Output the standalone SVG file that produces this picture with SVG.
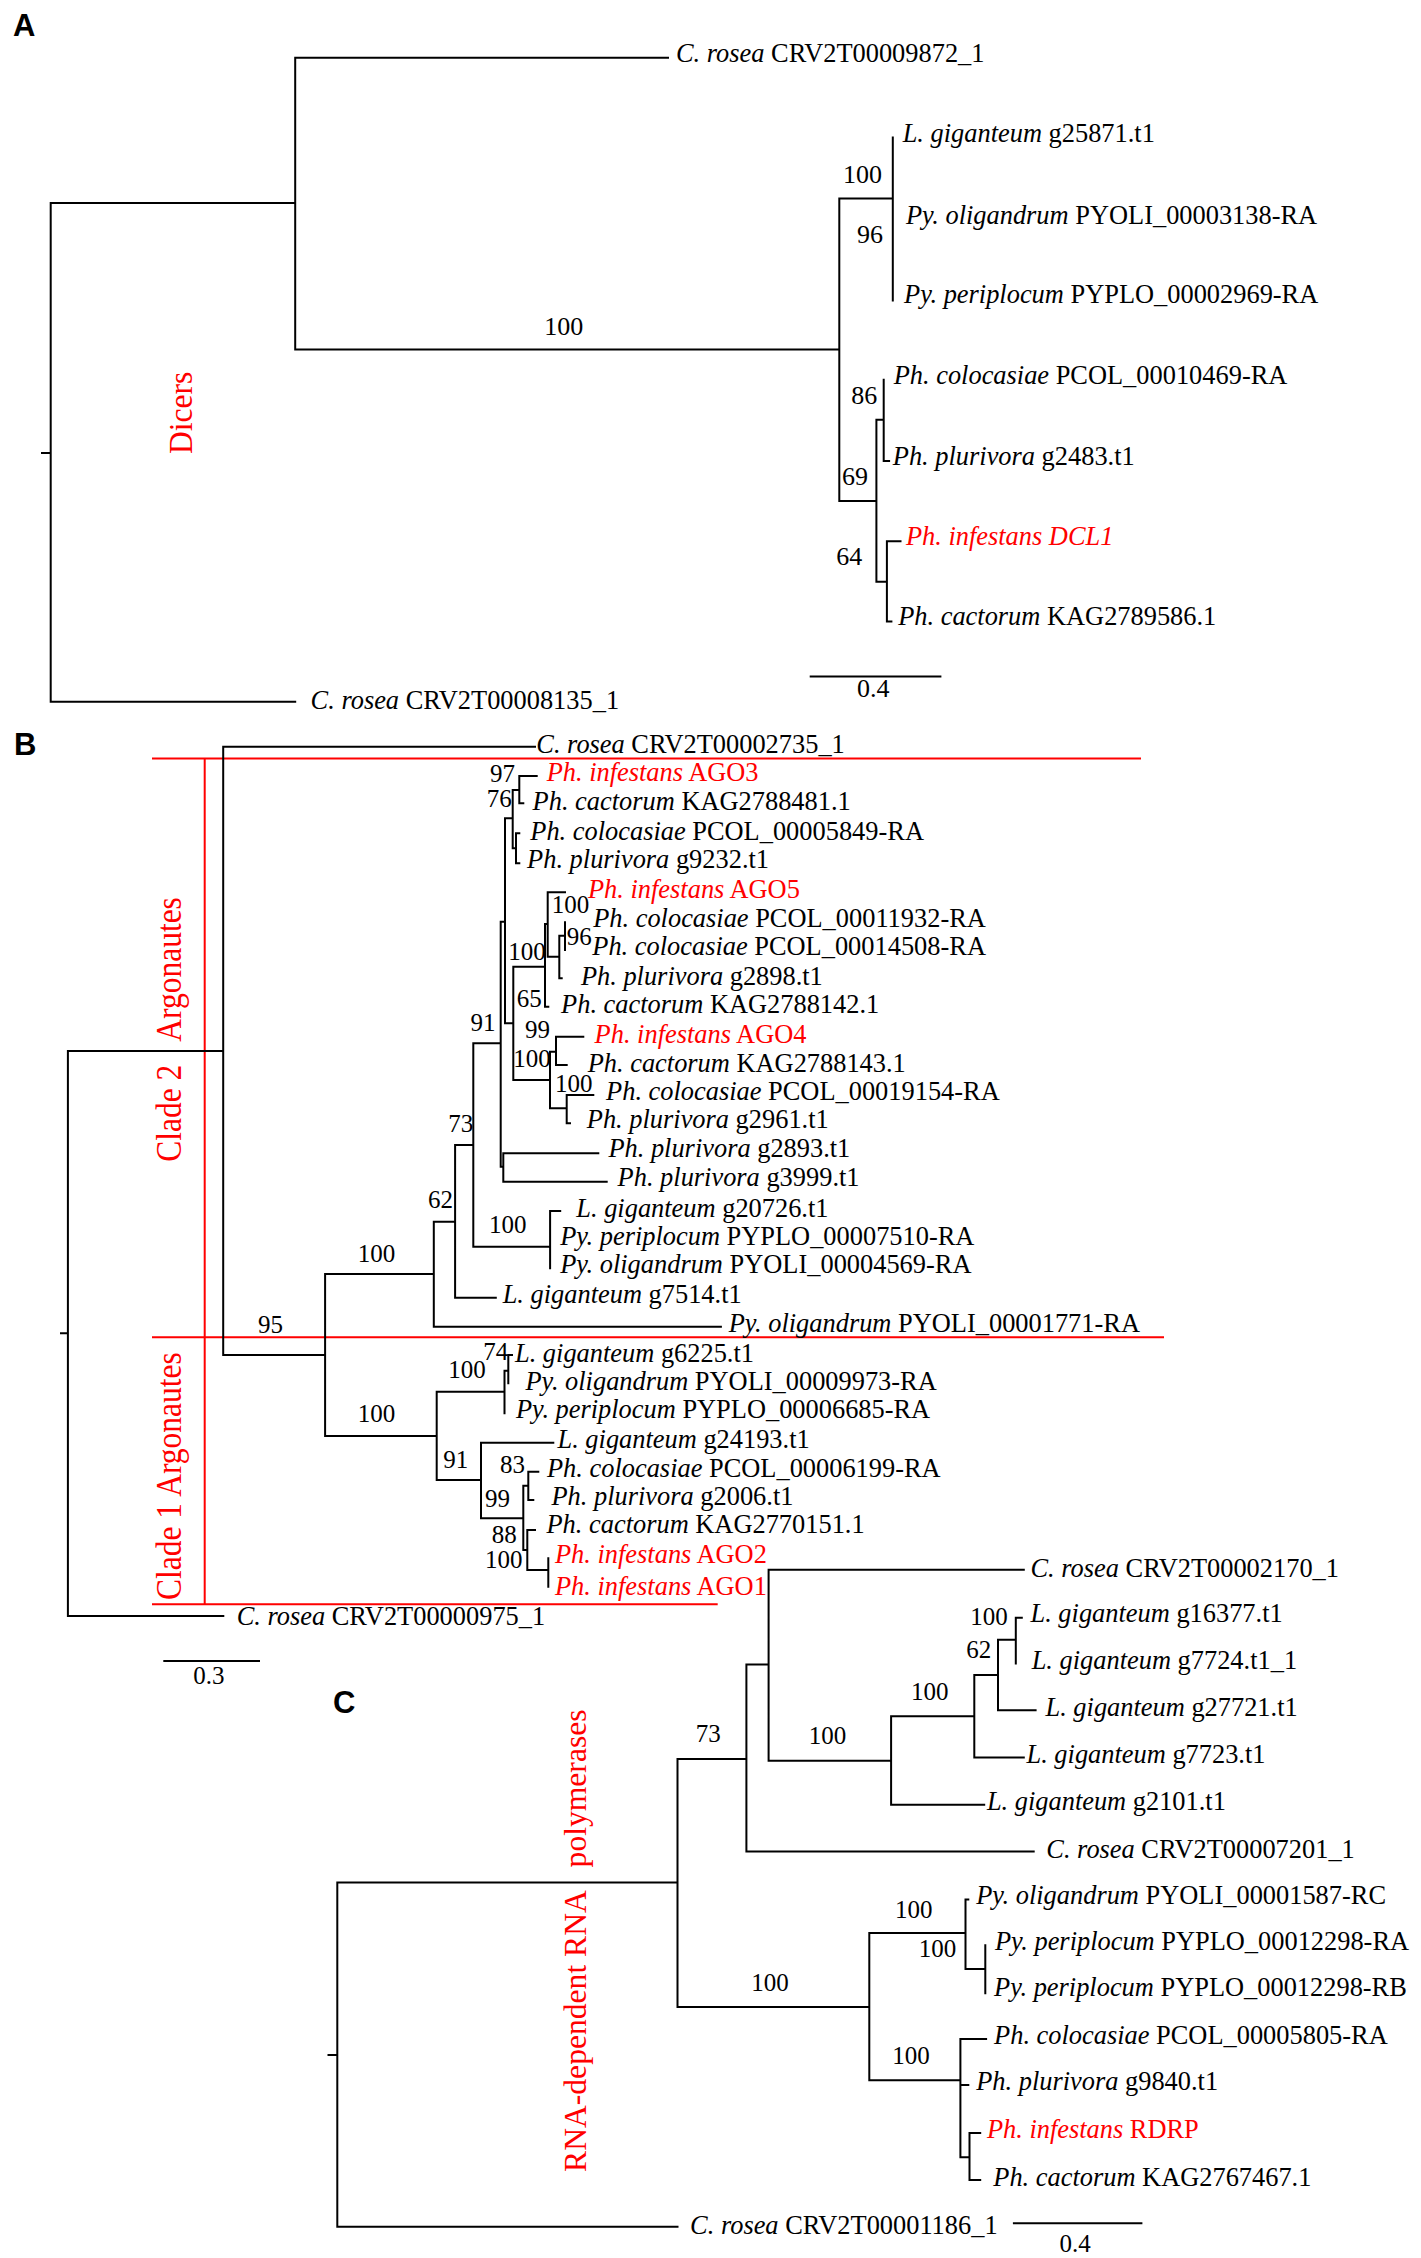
<svg xmlns="http://www.w3.org/2000/svg" width="1421" height="2258" viewBox="0 0 1421 2258">
<style>
.t{font-family:"Liberation Serif","Times New Roman",serif;font-size:26.4px;fill:#000}
.n{font-family:"Liberation Serif","Times New Roman",serif;font-size:25px;fill:#000}
.na{font-family:"Liberation Serif","Times New Roman",serif;font-size:26px;fill:#000}
.i{font-style:italic}
.r{fill:#ff0000}
.p{font-family:"Liberation Sans",Arial,sans-serif;font-weight:bold;font-size:31px;fill:#000}
.rt{font-family:"Liberation Serif","Times New Roman",serif;font-size:31.6px;fill:#ff0000}
.br{fill:none;stroke:#000;stroke-width:2;stroke-linecap:square}
.rl{fill:none;stroke:#ff0000;stroke-width:2}
</style>
<rect width="1421" height="2258" fill="#fff"/>

<!-- ================= PANEL A ================= -->
<g id="panelA">
<text class="p" x="13" y="35.8">A</text>
<g id="a-label-dicers"><text class="rt" transform="translate(192,412.8) rotate(-90) scale(1,1.08)" text-anchor="middle">Dicers</text></g>
<g id="a-connectors">
<path class="br" d="M42,453H50.7M50.7,203V701.8M50.7,203H295.2M50.7,701.8H295.2M295.2,57.8V349.5M295.2,57.8H668M295.2,349.5H839.3M839.3,198.6V500.9M839.3,198.6H892.8M892.8,137.6V300.5M839.3,500.9H876.4M876.4,419.7V581.7M876.4,419.7H883.7M883.7,379.8V461M883.7,461H889.1M876.4,581.7H886.9M886.9,541.3V621.6M886.9,541.3H900.5M886.9,621.6H891.4"/>
<path class="br" d="M810.7,676.6H940.4"/>
</g>
<g id="a-leaf-crosea9872"><text class="t" x="676" y="62"><tspan class="i">C. rosea</tspan> CRV2T00009872_1</text></g>
<g id="a-leaf-lgig25871"><text class="t" x="902.7" y="142.2"><tspan class="i">L. giganteum</tspan> g25871.t1</text></g>
<g id="a-leaf-pyoli3138"><text class="t" x="905.9" y="223.9"><tspan class="i">Py. oligandrum</tspan> PYOLI_00003138-RA</text></g>
<g id="a-leaf-pyplo2969"><text class="t" x="904.1" y="302.8"><tspan class="i">Py. periplocum</tspan> PYPLO_00002969-RA</text></g>
<g id="a-leaf-pcol10469"><text class="t" x="893.7" y="384.4"><tspan class="i">Ph. colocasiae</tspan> PCOL_00010469-RA</text></g>
<g id="a-leaf-pplu2483"><text class="t" x="892.8" y="464.7"><tspan class="i">Ph. plurivora</tspan> g2483.t1</text></g>
<g id="a-leaf-dcl1"><text class="t r i" x="905.9" y="545">Ph. infestans DCL1</text></g>
<g id="a-leaf-pcac9586"><text class="t" x="898.2" y="624.8"><tspan class="i">Ph. cactorum</tspan> KAG2789586.1</text></g>
<g id="a-leaf-crosea8135"><text class="t" x="310.6" y="708.7"><tspan class="i">C. rosea</tspan> CRV2T00008135_1</text></g>
<g id="a-support" text-anchor="middle">
<text class="na" x="862.4" y="182.6">100</text>
<text class="na" x="870" y="243.1">96</text>
<text class="na" x="563.7" y="334.9">100</text>
<text class="na" x="864.2" y="403.7">86</text>
<text class="na" x="855" y="484.9">69</text>
<text class="na" x="849.2" y="565.1">64</text>
<text class="na" x="873.3" y="697.2">0.4</text>
</g>
</g>

<!-- ================= PANEL B ================= -->
<g id="panelB">
<text class="p" x="14" y="755">B</text>
<g id="b-clade-lines">
<path class="rl" d="M152,758.5H1141M204.7,758.5V1604.3M152,1337.3H1164M152,1604.3H717.7"/>
</g>
<g id="b-label-clade2"><text class="rt" style="font-size:31.5px" transform="translate(181,1161.7) rotate(-90) scale(1,1.17)">Clade 2 <tspan x="120">Argonautes</tspan></text></g>
<g id="b-label-clade1"><text class="rt" style="font-size:31.5px" transform="translate(181,1600) rotate(-90) scale(1,1.17)">Clade 1 Argonautes</text></g>
<g id="b-connectors">
<path class="br" d="M61,1333.3H67.9M67.9,1051V1616M67.9,1051H223.2M67.9,1616H223.3M223.2,746.7V1355M223.2,746.7H535M223.2,1355H325.1
M325.1,1274V1436M325.1,1274H433.8M433.8,1221.7V1326.7M433.8,1326.7H720.9M433.8,1221.7H455.1M455.1,1145V1297.7M455.1,1297.7H495.8M455.1,1145H473.3
M473.3,1043.3V1246.7M473.3,1246.7H550.1M550.1,1211V1268.3M550.1,1211H560.2M473.3,1043.3H500.7
M500.7,921.7V1166.7M500.7,1166.7H503.3M503.3,1153.3V1181.7M503.3,1153.3H598.3M503.3,1181.7H606.7
M500.7,921.7H505M505,818.3V1023.3M505,818.3H512.7M512.7,790V848.3M512.7,790H519.3M519.3,776V803.3M519.3,776H536.7M519.3,803.3H523.3
M512.7,848.3H516M516,833.3V863.3M516,833.3H519.3M516,863.3H519.3
M505,1023.3H513.3M513.3,966.7V1080M513.3,966.7H545M545,924V1006.7M545,1006.7H548.3M545,924H547.7
M547.7,892.3V956.7M547.7,892.3H565M547.7,956.7H559.3M559.3,935.7V978.3M559.3,978.3H561.7M559.3,935.7H565M565,922.3V950
M513.3,1080H550M550,1051.7V1108.3M550,1051.7H556M556,1036.7V1065M556,1036.7H583.3M556,1065H566.7
M550,1108.3H566.7M566.7,1095V1123.3M566.7,1095H593.3M566.7,1123.3H570
M325.1,1436H436.7M436.7,1391.7V1480M436.7,1391.7H504.5M504.5,1370.7V1413.3M504.5,1370.7H508.3M508.3,1355V1383.3M508.3,1355H512
M436.7,1480H481M481,1442.7V1518.3M481,1442.7H553.3M481,1518.3H523.3M523.3,1485.8V1550M523.3,1485.8H528.3M528.3,1471.7V1500M528.3,1471.7H538.3M528.3,1500H533.3
M523.3,1550H527.3M527.3,1530V1570M527.3,1530H535M527.3,1570H548.3M548.3,1558.3V1586.7"/>
<path class="br" d="M164.3,1661H259"/>
</g>
<g id="b-leaf-crosea2735"><text class="t" x="536.3" y="753.3"><tspan class="i">C. rosea</tspan> CRV2T00002735_1</text></g>
<g id="b-leaf-ago3"><text class="t r" x="546.7" y="781"><tspan class="i">Ph. infestans</tspan> AGO3</text></g>
<g id="b-leaf-pcac8481"><text class="t" x="532.6" y="810"><tspan class="i">Ph. cactorum</tspan> KAG2788481.1</text></g>
<g id="b-leaf-pcol5849"><text class="t" x="530.3" y="840"><tspan class="i">Ph. colocasiae</tspan> PCOL_00005849-RA</text></g>
<g id="b-leaf-pplu9232"><text class="t" x="527.1" y="868.3"><tspan class="i">Ph. plurivora</tspan> g9232.t1</text></g>
<g id="b-leaf-ago5"><text class="t r" x="588" y="898"><tspan class="i">Ph. infestans</tspan> AGO5</text></g>
<g id="b-leaf-pcol11932"><text class="t" x="593.2" y="926.7"><tspan class="i">Ph. colocasiae</tspan> PCOL_00011932-RA</text></g>
<g id="b-leaf-pcol14508"><text class="t" x="592.3" y="955"><tspan class="i">Ph. colocasiae</tspan> PCOL_00014508-RA</text></g>
<g id="b-leaf-pplu2898"><text class="t" x="580.9" y="985"><tspan class="i">Ph. plurivora</tspan> g2898.t1</text></g>
<g id="b-leaf-pcac8142"><text class="t" x="561.1" y="1013.3"><tspan class="i">Ph. cactorum</tspan> KAG2788142.1</text></g>
<g id="b-leaf-ago4"><text class="t r" x="594.6" y="1042.7"><tspan class="i">Ph. infestans</tspan> AGO4</text></g>
<g id="b-leaf-pcac8143"><text class="t" x="587.7" y="1071.7"><tspan class="i">Ph. cactorum</tspan> KAG2788143.1</text></g>
<g id="b-leaf-pcol19154"><text class="t" x="606.1" y="1100"><tspan class="i">Ph. colocasiae</tspan> PCOL_00019154-RA</text></g>
<g id="b-leaf-pplu2961"><text class="t" x="586.8" y="1128.3"><tspan class="i">Ph. plurivora</tspan> g2961.t1</text></g>
<g id="b-leaf-pplu2893"><text class="t" x="608.4" y="1157.3"><tspan class="i">Ph. plurivora</tspan> g2893.t1</text></g>
<g id="b-leaf-pplu3999"><text class="t" x="617.6" y="1186"><tspan class="i">Ph. plurivora</tspan> g3999.t1</text></g>
<g id="b-leaf-lgig20726"><text class="t" x="576.3" y="1216.7"><tspan class="i">L. giganteum</tspan> g20726.t1</text></g>
<g id="b-leaf-pyplo7510"><text class="t" x="560.2" y="1245"><tspan class="i">Py. periplocum</tspan> PYPLO_00007510-RA</text></g>
<g id="b-leaf-pyoli4569"><text class="t" x="560.2" y="1273.3"><tspan class="i">Py. oligandrum</tspan> PYOLI_00004569-RA</text></g>
<g id="b-leaf-lgig7514"><text class="t" x="502.7" y="1302.7"><tspan class="i">L. giganteum</tspan> g7514.t1</text></g>
<g id="b-leaf-pyoli1771"><text class="t" x="728.7" y="1331.7"><tspan class="i">Py. oligandrum</tspan> PYOLI_00001771-RA</text></g>
<g id="b-leaf-lgig6225"><text class="t" x="515" y="1361.7"><tspan class="i">L. giganteum</tspan> g6225.t1</text></g>
<g id="b-leaf-pyoli9973"><text class="t" x="525.5" y="1390"><tspan class="i">Py. oligandrum</tspan> PYOLI_00009973-RA</text></g>
<g id="b-leaf-pyplo6685"><text class="t" x="516" y="1418.3"><tspan class="i">Py. periplocum</tspan> PYPLO_00006685-RA</text></g>
<g id="b-leaf-lgig24193"><text class="t" x="557.5" y="1448.3"><tspan class="i">L. giganteum</tspan> g24193.t1</text></g>
<g id="b-leaf-pcol6199"><text class="t" x="547" y="1476.7"><tspan class="i">Ph. colocasiae</tspan> PCOL_00006199-RA</text></g>
<g id="b-leaf-pplu2006"><text class="t" x="551.5" y="1505"><tspan class="i">Ph. plurivora</tspan> g2006.t1</text></g>
<g id="b-leaf-pcac0151"><text class="t" x="546.5" y="1533.3"><tspan class="i">Ph. cactorum</tspan> KAG2770151.1</text></g>
<g id="b-leaf-ago2"><text class="t r" x="555" y="1563.3"><tspan class="i">Ph. infestans</tspan> AGO2</text></g>
<g id="b-leaf-ago1"><text class="t r" x="555" y="1595"><tspan class="i">Ph. infestans</tspan> AGO1</text></g>
<g id="b-leaf-crosea0975"><text class="t" x="236.7" y="1625"><tspan class="i">C. rosea</tspan> CRV2T00000975_1</text></g>
<g id="b-support">
<text class="n" x="490" y="781.7">97</text>
<text class="n" x="486.7" y="806.7">76</text>
<text class="n" x="551.7" y="913.3">100</text>
<text class="n" x="566.7" y="945">96</text>
<text class="n" x="508.3" y="960">100</text>
<text class="n" x="516.7" y="1006.7">65</text>
<text class="n" x="470.5" y="1031">91</text>
<text class="n" x="525" y="1038.3">99</text>
<text class="n" x="513.3" y="1066.7">100</text>
<text class="n" x="555" y="1091.7">100</text>
<text class="n" x="448.3" y="1131.7">73</text>
<text class="n" x="428" y="1208.3">62</text>
<text class="n" x="489" y="1233.3">100</text>
<text class="n" x="357.7" y="1261.7">100</text>
<text class="n" x="258" y="1333.3">95</text>
<text class="n" x="483.3" y="1360">74</text>
<text class="n" x="448.3" y="1378.3">100</text>
<text class="n" x="357.7" y="1421.7">100</text>
<text class="n" x="443.3" y="1468.3">91</text>
<text class="n" x="500" y="1473.3">83</text>
<text class="n" x="485" y="1506.7">99</text>
<text class="n" x="491.7" y="1543.3">88</text>
<text class="n" x="485" y="1568.3">100</text>
<text class="n" x="193.3" y="1684">0.3</text>
</g>
</g>

<!-- ================= PANEL C ================= -->
<g id="panelC">
<text class="p" x="333" y="1713">C</text>
<g id="c-label-rdrp"><text class="rt" transform="translate(586,2171.9) rotate(-90)">RNA-dependent RNA <tspan x="304.5">polymerases</tspan></text></g>
<g id="c-connectors">
<path class="br" d="M328.5,2055H337.3M337.3,1882.5V2226.8M337.3,1882.5H677.5M337.3,2226.8H677.5M677.5,1758.9V2007M677.5,1758.9H746.4M746.4,1664.5V1851.4M746.4,1664.5H768.6
M768.6,1569.8V1760.7M768.6,1569.8H1023.8M768.6,1760.7H891.1M891.1,1716.3V1804.7M891.1,1716.3H974.3M974.3,1675.1V1757.5M974.3,1757.5H1023.8M891.1,1804.7H984.2
M974.3,1675.1H998M998,1639.8V1710.3M998,1710.3H1035.6M998,1639.8H1015.8M1015.8,1617.8V1663.6M1015.8,1617.8H1021.8
M746.4,1851.4H1033.7M677.5,2007H869.3M869.3,1932.9V2080.3M869.3,1932.9H965.5M965.5,1899.4V1969M965.5,1899.4H968.3M965.5,1969H985.3M985.3,1945.2V1993.3
M869.3,2080.3H960.4M960.4,2039.1V2157.2M960.4,2039.1H986.1M960.4,2084.9H968.3M960.4,2157.2H969.5M969.5,2133V2180.1M969.5,2133H980.2M969.5,2180.1H980.2"/>
<path class="br" d="M1013.9,2223.2H1141.4"/>
</g>
<g id="c-leaf-crosea2170"><text class="t" x="1030.5" y="1576.6"><tspan class="i">C. rosea</tspan> CRV2T00002170_1</text></g>
<g id="c-leaf-lgig16377"><text class="t" x="1030.5" y="1622.4"><tspan class="i">L. giganteum</tspan> g16377.t1</text></g>
<g id="c-leaf-lgig7724"><text class="t" x="1031.7" y="1669.1"><tspan class="i">L. giganteum</tspan> g7724.t1_1</text></g>
<g id="c-leaf-lgig27721"><text class="t" x="1045.5" y="1716.3"><tspan class="i">L. giganteum</tspan> g27721.t1</text></g>
<g id="c-leaf-lgig7723"><text class="t" x="1026.5" y="1763"><tspan class="i">L. giganteum</tspan> g7723.t1</text></g>
<g id="c-leaf-lgig2101"><text class="t" x="986.9" y="1810.1"><tspan class="i">L. giganteum</tspan> g2101.t1</text></g>
<g id="c-leaf-crosea7201"><text class="t" x="1046.3" y="1858.2"><tspan class="i">C. rosea</tspan> CRV2T00007201_1</text></g>
<g id="c-leaf-pyoli1587"><text class="t" x="976.2" y="1904"><tspan class="i">Py. oligandrum</tspan> PYOLI_00001587-RC</text></g>
<g id="c-leaf-pyplo2298ra"><text class="t" x="994.9" y="1949.8"><tspan class="i">Py. periplocum</tspan> PYPLO_00012298-RA</text></g>
<g id="c-leaf-pyplo2298rb"><text class="t" x="994.1" y="1995.6"><tspan class="i">Py. periplocum</tspan> PYPLO_00012298-RB</text></g>
<g id="c-leaf-pcol5805"><text class="t" x="994.1" y="2043.7"><tspan class="i">Ph. colocasiae</tspan> PCOL_00005805-RA</text></g>
<g id="c-leaf-pplu9840"><text class="t" x="976.2" y="2089.5"><tspan class="i">Ph. plurivora</tspan> g9840.t1</text></g>
<g id="c-leaf-rdrp"><text class="t r" x="986.9" y="2137.5"><tspan class="i">Ph. infestans</tspan> RDRP</text></g>
<g id="c-leaf-pcac7467"><text class="t" x="993.3" y="2185.6"><tspan class="i">Ph. cactorum</tspan> KAG2767467.1</text></g>
<g id="c-leaf-crosea1186"><text class="t" x="690.1" y="2233.7"><tspan class="i">C. rosea</tspan> CRV2T00001186_1</text></g>
<g id="c-support">
<text class="n" x="695.8" y="1741.5">73</text>
<text class="n" x="808.7" y="1743.7">100</text>
<text class="n" x="751.3" y="1991">100</text>
<text class="n" x="910.9" y="1700.3">100</text>
<text class="n" x="970.3" y="1624.7">100</text>
<text class="n" x="966.3" y="1658.1">62</text>
<text class="n" x="895" y="1917.7">100</text>
<text class="n" x="918.8" y="1956.7">100</text>
<text class="n" x="892.3" y="2064.3">100</text>
<text class="n" x="1059.4" y="2252">0.4</text>
</g>
</g>
</svg>
